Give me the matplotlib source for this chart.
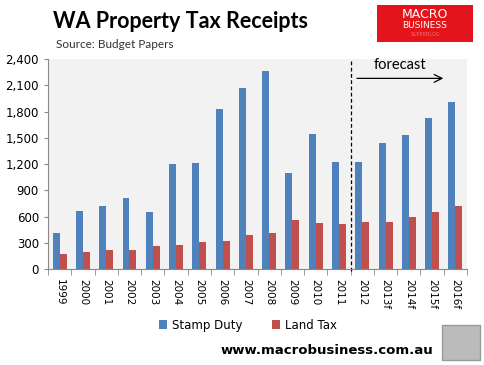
import matplotlib.pyplot as plt
import matplotlib.ticker as ticker
from matplotlib.patches import Rectangle
import numpy as np

years = ["1999", "2000", "2001", "2002", "2003", "2004", "2005", "2006", "2007",
         "2008", "2009", "2010", "2011", "2012", "2013f", "2014f", "2015f", "2016f"]
stamp_duty = [411, 663, 720, 811, 651, 1200, 1211, 1829, 2069,
              2263, 1097, 1543, 1223, 1223, 1440, 1531, 1726, 1909]
land_tax = [171, 194, 217, 217, 263, 274, 309, 320, 389,
            411, 560, 526, 514, 537, 537, 594, 651, 720]

BLUE = "#4F81BD"
RED = "#C0504D"

fig = plt.figure(figsize=(4.85, 3.65), dpi=100)
ax = fig.add_axes([0.099, 0.263, 0.864, 0.575])
ax.set_facecolor("#F2F2F2")

x = np.arange(len(years))
w = 0.3
ax.bar(x - w/2, stamp_duty, w, color=BLUE, label="Stamp Duty")
ax.bar(x + w/2, land_tax, w, color=RED, label="Land Tax")

ax.set_xlim(-0.5, len(years) - 0.5)
ax.set_ylim(0, 2400)
ax.yaxis.set_major_locator(ticker.MultipleLocator(300))
ax.yaxis.set_major_formatter(ticker.FuncFormatter(lambda v, p: f"{int(v):,}"))

ax.set_xticks(x)
ax.set_xticklabels(years, rotation=-90, fontsize=7.5, fontfamily="DejaVu Sans")
ax.xaxis.set_minor_locator(ticker.FixedLocator(np.arange(-0.5, len(years), 1)))
ax.tick_params(axis="x", which="major", length=0, pad=7)
ax.tick_params(axis="x", which="minor", length=4, color="#888888")
ax.tick_params(axis="y", length=3, color="#888888", labelsize=8.5)

for s in ["top", "right"]:
    ax.spines[s].set_visible(False)
for s in ["left", "bottom"]:
    ax.spines[s].set_color("#888888")

# forecast marker
ax.axvline(12.5, color="black", linestyle=(0, (3, 2)), linewidth=0.9, ymin=-0.01, clip_on=False)
ax.annotate("", xy=(16.6, 2180), xytext=(12.65, 2180),
            arrowprops=dict(arrowstyle="->", color="black", lw=0.9, mutation_scale=14))
ax.text(14.6, 2330, "forecast", ha="center", va="center", fontsize=10.5, fontfamily="Lato")

ax.legend(loc="center", bbox_to_anchor=(0.477, -0.267), ncol=2, frameon=False,
          fontsize=8.5, handlelength=0.7, handleheight=0.7, columnspacing=2.5, handletextpad=0.4)

# titles
fig.text(53/485, 1 - 22/365, "WA Property Tax Receipts", fontsize=15.5, fontweight="bold",
         fontfamily="Lato", va="center", ha="left")
fig.text(56/485, 1 - 45/365, "Source: Budget Papers", fontsize=8.5, fontfamily="Lato",
         va="center", ha="left", color="#333333")

# logo box
fig.patches.append(Rectangle((377/485, 1 - 42/365), 96/485, 37/365, transform=fig.transFigure,
                             facecolor="#E4141B", edgecolor="none"))
fig.text(425/485, 1 - 15/365, "MACRO", color="white", fontsize=9, ha="center", va="center",
         fontfamily="DejaVu Sans")
fig.text(425/485, 1 - 26/365, "BUSINESS", color="white", fontsize=6.5, ha="center", va="center",
         fontfamily="DejaVu Sans")
fig.text(425/485, 1 - 34/365, "SUPERBLOG", color="#F07070", fontsize=3.5, ha="center", va="center",
         fontfamily="DejaVu Sans")

fig.text(433/485, 1 - 350/365, "www.macrobusiness.com.au", fontsize=9.5, fontweight="bold",
         fontfamily="DejaVu Sans", ha="right", va="center")
fig.patches.append(Rectangle((442/485, 1 - 360/365), 38/485, 35/365, transform=fig.transFigure,
                             facecolor="#BBBBBB", edgecolor="#999999", linewidth=1))

fig.savefig("out.png", dpi=100)
